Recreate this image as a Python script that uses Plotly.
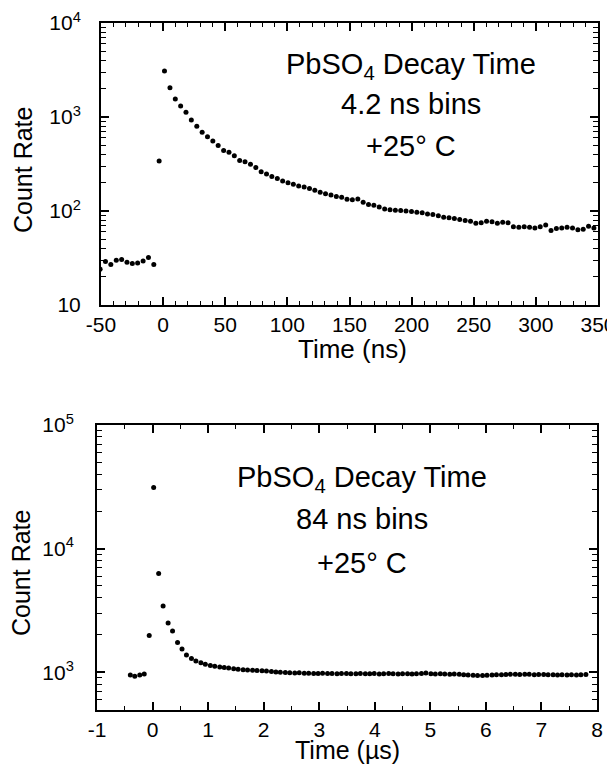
import plotly.graph_objects as go

# ---------------- data ----------------
# Top panel: 4.2 ns bins
top_time_ns = [
    -50.7, -46.4, -42.1, -37.7, -33.4, -29.1, -24.8, -20.5, -16.1, -11.8,
    -7.5, -3.2, 1.1, 5.5, 9.8, 14.1, 18.4, 22.7, 27.1, 31.4,
    35.7, 40.0, 44.3, 48.7, 53.0, 57.3, 61.6, 65.9, 70.3, 74.6,
    78.9, 83.2, 87.5, 91.9, 96.2, 100.5, 104.8, 109.1, 113.5, 117.8,
    122.1, 126.4, 130.7, 135.1, 139.4, 143.7, 148.0, 152.3, 156.7, 161.0,
    165.3, 169.6, 173.9, 178.3, 182.6, 186.9, 191.2, 195.5, 199.9, 204.2,
    208.5, 212.8, 217.1, 221.5, 225.8, 230.1, 234.4, 238.7, 243.1, 247.4,
    251.7, 256.0, 260.3, 264.7, 269.0, 273.3, 277.6, 281.9, 286.3, 290.6,
    294.9, 299.2, 303.5, 307.9, 312.2, 316.5, 320.8, 325.1, 329.5, 333.8,
    338.1, 342.4, 346.7,
]
top_counts = [
    24, 29, 27, 30, 30.5, 28.5, 27.7, 28, 29.4, 32,
    27, 340, 3080, 2050, 1550, 1310, 1120, 930, 795, 687,
    617, 556, 496, 440, 421, 387, 345, 334, 314, 290,
    262, 248, 233, 222, 208, 200, 192, 185, 180, 173,
    166, 158, 153, 148, 143, 140, 133, 132, 134, 124,
    117, 115, 110, 105, 103, 102, 101, 100, 99, 97,
    96, 93, 92, 89, 86, 85, 83, 81, 79, 78,
    74, 75, 78, 77, 74, 76, 75, 68, 67, 68,
    67, 66, 68, 71, 62, 65, 66, 67, 66, 63,
    64, 69, 66,
]

# Bottom panel: 84 ns bins
bot_time_us = [
    -0.40, -0.32, -0.23, -0.15, -0.06, 0.02, 0.11, 0.19, 0.28, 0.36,
    0.45, 0.53, 0.61, 0.70, 0.78, 0.87, 0.95, 1.04, 1.12, 1.21,
    1.29, 1.37, 1.46, 1.54, 1.63, 1.71, 1.80, 1.88, 1.97, 2.05,
    2.14, 2.22, 2.30, 2.39, 2.47, 2.56, 2.64, 2.73, 2.81, 2.90,
    2.98, 3.06, 3.15, 3.23, 3.32, 3.40, 3.49, 3.57, 3.66, 3.74,
    3.83, 3.91, 3.99, 4.08, 4.16, 4.25, 4.33, 4.42, 4.50, 4.59,
    4.67, 4.75, 4.84, 4.92, 5.01, 5.09, 5.18, 5.26, 5.35, 5.43,
    5.52, 5.60, 5.68, 5.77, 5.85, 5.94, 6.02, 6.11, 6.19, 6.28,
    6.36, 6.44, 6.53, 6.61, 6.70, 6.78, 6.87, 6.95, 7.04, 7.12,
    7.21, 7.29, 7.37, 7.46, 7.54, 7.63, 7.71, 7.80,
]
bot_counts = [
    950, 925, 950, 965, 1985, 31200, 6300, 3430, 2500, 2150,
    1740, 1540, 1380, 1290, 1230, 1190, 1160, 1135, 1115, 1100,
    1090, 1080, 1065, 1055, 1048, 1042, 1037, 1032, 1028, 1020,
    1012, 1005, 1000, 995, 990, 985, 988, 982, 980, 978,
    976, 980, 975, 977, 972, 978, 975, 970, 973, 976,
    972, 970, 974, 968, 972, 975, 970, 968, 972, 970,
    966, 970, 975, 985, 972, 968, 970, 965, 962, 966,
    960, 955, 950, 945, 940, 942, 945, 948, 952, 955,
    958, 962, 960, 958, 962, 960, 955, 958, 956, 952,
    955, 950, 953, 948, 952, 950, 955, 958,
]

top_xticks = [-50, 0, 50, 100, 150, 200, 250, 300, 350]
top_yticks = [10, 100, 1000, 10000]
top_ytext = ["10", "10<sup>2</sup>", "10<sup>3</sup>", "10<sup>4</sup>"]
bot_xticks = [-1, 0, 1, 2, 3, 4, 5, 6, 7, 8]
bot_yticks = [1000, 10000, 100000]
bot_ytext = ["10<sup>3</sup>", "10<sup>4</sup>", "10<sup>5</sup>"]

top_label_lines = ["PbSO<sub>4</sub> Decay Time", "4.2 ns bins", "+25° C"]
bot_label_lines = ["PbSO<sub>4</sub> Decay Time", "84 ns bins", "+25° C"]

# ---------------- figure ----------------
# the page body has an 8 px margin, so the figure is 8 px smaller and
# every page-pixel position is shifted by that offset
OFF = 8
W, H = 615 - OFF, 767 - OFF
FONT = "Liberation Sans, Arial, Helvetica, sans-serif"


def px(x):
    return (x - OFF) / W


def py(y):
    return 1 - (y - OFF) / H


fig = go.Figure()
fig.add_trace(go.Scatter(x=top_time_ns, y=top_counts, mode="markers",
                         marker=dict(color="black", size=5, symbol="circle"),
                         xaxis="x", yaxis="y", showlegend=False))
fig.add_trace(go.Scatter(x=bot_time_us, y=bot_counts, mode="markers",
                         marker=dict(color="black", size=5, symbol="circle"),
                         xaxis="x2", yaxis="y2", showlegend=False))


def log_minor(lo, hi):
    vals = []
    d = lo
    while d < hi:
        for m in range(2, 10):
            vals.append(m * d)
        d *= 10
    return vals


common = dict(showline=True, linecolor="black", linewidth=2, mirror="allticks",
              ticks="inside", ticklen=8, tickwidth=1.5, tickcolor="black",
              showgrid=False, zeroline=False, automargin=False,
              ticklabeloverflow="allow",
              tickfont=dict(family=FONT, size=21, color="black"))

fig.update_layout(
    width=W, height=H,
    margin=dict(l=0, r=0, t=0, b=0, autoexpand=False),
    paper_bgcolor="white", plot_bgcolor="white",
    font=dict(family=FONT, color="black"),
    xaxis=dict(domain=[px(101), px(598)], anchor="y", range=[-50, 350],
               tickvals=top_xticks, ticktext=[str(v) for v in top_xticks],
               ticklabelstandoff=0,
               minor=dict(dtick=10, tick0=0, ticks="inside", ticklen=4,
                          tickwidth=1.2, tickcolor="black"),
               **common),
    yaxis=dict(domain=[py(305), py(23)], anchor="x", type="log", range=[1, 4],
               tickvals=top_yticks, ticktext=top_ytext, ticklabelstandoff=14,
               minor=dict(tickvals=log_minor(10, 10000), ticks="inside",
                          ticklen=5, tickwidth=1.2, tickcolor="black"),
               **common),
    xaxis2=dict(domain=[px(97), px(597)], anchor="y2", range=[-1, 8],
                tickvals=bot_xticks, ticktext=[str(v) for v in bot_xticks],
                ticklabelstandoff=0,
                minor=dict(dtick=0.5, tick0=0, ticks="inside", ticklen=4,
                           tickwidth=1.2, tickcolor="black"),
                **common),
    yaxis2=dict(domain=[py(710), py(425)], anchor="x2", type="log",
                range=[2.694, 5.0],
                tickvals=bot_yticks, ticktext=bot_ytext, ticklabelstandoff=17,
                minor=dict(tickvals=log_minor(100, 100000), ticks="inside",
                           ticklen=5, tickwidth=1.2, tickcolor="black"),
                **common),
)

annots = []
# axis titles
annots.append(dict(text="Count Rate", x=px(23), y=py(170), textangle=-90,
                   font=dict(size=25)))
annots.append(dict(text="Time (ns)", x=px(352), y=py(349), font=dict(size=26)))
annots.append(dict(text="Count Rate", x=px(21), y=py(573), textangle=-90,
                   font=dict(size=25)))
annots.append(dict(text="Time (µs)", x=px(347), y=py(750), font=dict(size=25)))
# inner labels
for line, yy in zip(top_label_lines, [66, 104, 146]):
    annots.append(dict(text=line, x=px(411), y=py(yy), font=dict(size=29)))
for line, yy in zip(bot_label_lines, [479, 519, 563]):
    annots.append(dict(text=line, x=px(362), y=py(yy), font=dict(size=29)))

for a in annots:
    a.update(xref="paper", yref="paper", showarrow=False,
             xanchor="center", yanchor="middle")
    a["font"].update(family=FONT, color="black")
fig.update_layout(annotations=annots)

fig.write_html("out.html")
